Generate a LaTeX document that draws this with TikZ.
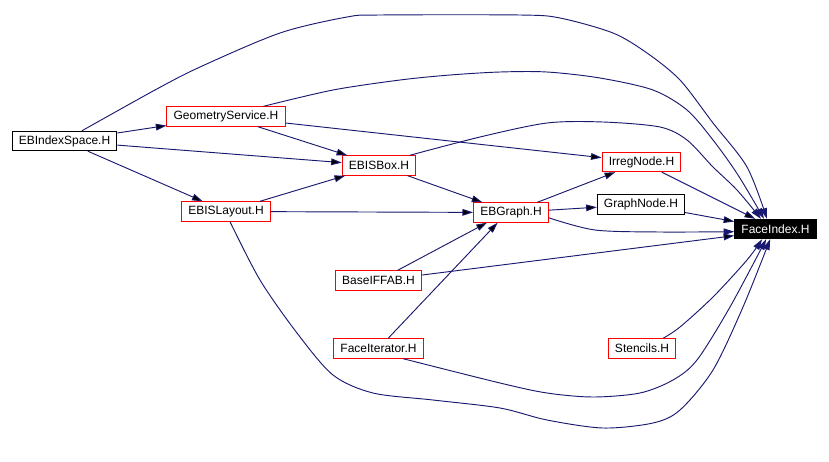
\documentclass[tikz,border=0pt]{standalone}
\usepackage{fontspec}
\setmainfont{Liberation Sans}
\usetikzlibrary{arrows.meta}

\definecolor{depblue}{HTML}{191970}

\tikzset{
  hdr/.style={draw=red, line width=0.75pt, font=\fontsize{9}{10}\selectfont,
    minimum height=14.5pt, inner xsep=5pt, inner ysep=0pt},
  hdrplain/.style={hdr, draw=black},
  hdrmain/.style={hdr, draw=black, fill=black, text=white},
  dep/.style={draw=depblue, line width=0.7pt, -{Triangle[length=8pt,width=5pt]}}
}

\begin{document}
\begin{tikzpicture}[x=0.75pt,y=-0.75pt]
  \useasboundingbox (0,0) rectangle (829,461);

  \node[hdrplain] (EBIndexSpace)    at (64.5,141)    {EBIndexSpace.H};
  \node[hdr]      (GeometryService) at (226,116.5)   {GeometryService.H};
  \node[hdr]      (EBISBox)         at (379,165.5)   {EBISBox.H};
  \node[hdr]      (EBISLayout)      at (226,211.5)   {EBISLayout.H};
  \node[hdr]      (EBGraph)         at (511,212.5)   {EBGraph.H};
  \node[hdr]      (IrregNode)       at (641.5,162)   {IrregNode.H};
  \node[hdrplain] (GraphNode)       at (641,204.5)   {GraphNode.H};
  \node[hdrmain]  (FaceIndex)       at (775.5,229)   {FaceIndex.H};
  \node[hdr]      (BaseIFFAB)       at (378.5,280.5) {BaseIFFAB.H};
  \node[hdr]      (FaceIterator)    at (378.5,348.5) {FaceIterator.H};
  \node[hdr]      (Stencils)        at (642,348.5)   {Stencils.H};

  \path[dep]
    (EBIndexSpace) edge (GeometryService)
    (EBIndexSpace) edge (EBISBox)
    (EBIndexSpace) edge (EBISLayout)
    (GeometryService) edge (EBISBox)
    (GeometryService) edge (IrregNode)
    (EBISLayout) edge (EBISBox)
    (EBISLayout) edge (EBGraph)
    (EBISBox) edge (EBGraph)
    (EBGraph) edge (IrregNode)
    (EBGraph) edge (GraphNode)
    (IrregNode) edge (FaceIndex)
    (GraphNode) edge (FaceIndex)
    (BaseIFFAB) edge ([xshift=-18pt]EBGraph.south)
    (BaseIFFAB) edge ([yshift=-5pt]FaceIndex.west)
    (FaceIterator) edge ([xshift=-10pt]EBGraph.south);

  % long bends into FaceIndex.H
  \draw[dep] plot[smooth] coordinates {([xshift=13pt]EBIndexSpace.north)
    (155,90) (200,67) (280,33) (347,17) (380,15) (520,15) (560,18) (613,33)
    (647,53) (680,80) (713,123) (747,167) ([xshift=-6.4pt]FaceIndex.north)};
  \draw[dep] plot[smooth] coordinates {([xshift=28pt]GeometryService.north)
    (333,90) (400,80) (450,75) (500,72) (547,72) (600,78) (653,90) (687,110)
    (713,140) (738,175) ([xshift=-8.6pt]FaceIndex.north)};
  \draw[dep] plot[smooth] coordinates {([xshift=23pt]EBISBox.north)
    (480,137) (547,123) (603,122) (660,127) (687,140) (713,167) (737,190)
    ([xshift=-10.9pt]FaceIndex.north)};
  \draw[dep] plot[smooth] coordinates {([yshift=-4pt]EBGraph.east)
    (595,230) (660,232) ([yshift=-2pt]FaceIndex.west)};
  \draw[dep] plot[smooth] coordinates {([xshift=3pt]EBISLayout.south)
    (260,280) (297,333) (333,375) (373,393) (433,400) (500,408) (547,420)
    (603,428) (653,423) (680,410) (713,370) (743,307)
    ([xshift=-4pt]FaceIndex.south)};
  \draw[dep] plot[smooth] coordinates {([xshift=18.4pt]FaceIterator.south)
    (500,383) (547,393) (593,397) (640,393) (673,380) (697,360) (730,307)
    ([xshift=-7pt]FaceIndex.south)};
  \draw[dep] plot[smooth] coordinates {([xshift=15.75pt]Stencils.north)
    (680,327) (713,297) (747,260) ([xshift=-10pt]FaceIndex.south)};
\end{tikzpicture}
\end{document}
